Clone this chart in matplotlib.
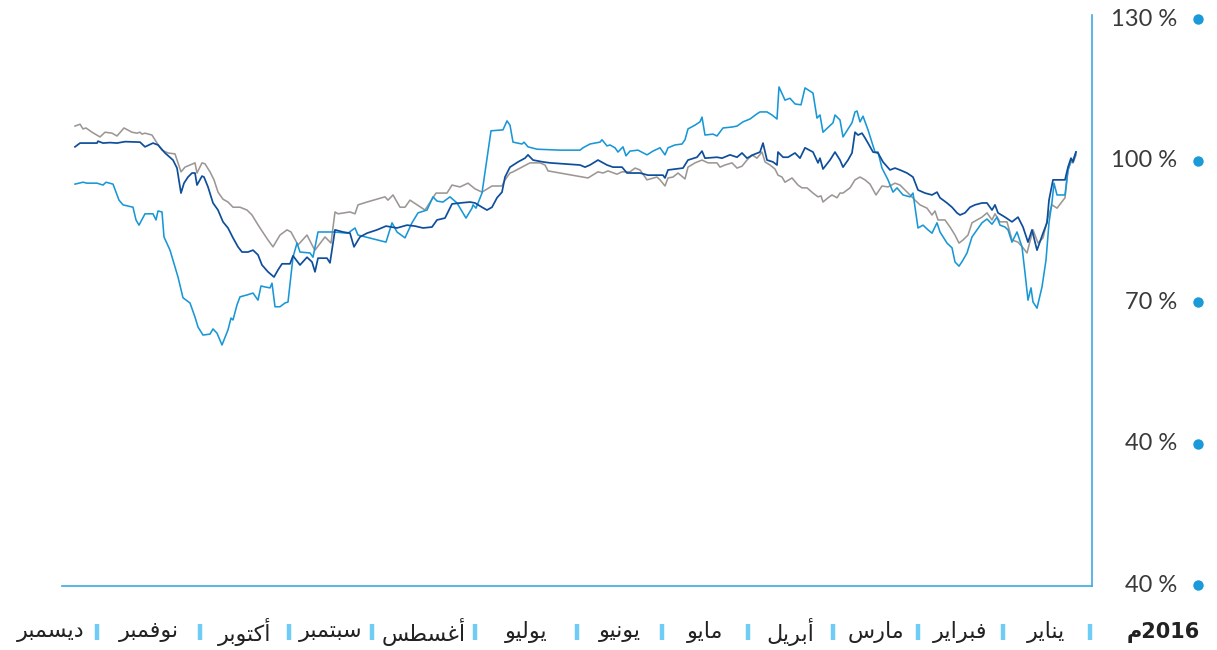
import matplotlib
matplotlib.use("Agg")
import matplotlib.pyplot as plt
from matplotlib.transforms import blended_transform_factory
from matplotlib.lines import Line2D

# ---------------- data (trading day counted from 1 Jan 2016, value in %) ----------------
navy_day = [250.25, 249, 244.75, 244.5, 243.25, 241.5, 239.75, 237.75, 234, 232.75, 230.75, 229.5,
            227.75, 225.75, 224.75, 223.75, 223, 222, 221, 220.25, 219.75, 218.5, 218, 217, 215.75,
            214.5, 213.25, 212, 210.75, 209.5, 208.5, 207, 205.75, 204.5, 203.5, 202, 200.5, 199.5,
            198.5, 196.5, 195.75, 194, 192.25, 191, 190.25, 189.5, 187.25, 186.5, 185.25, 183.25,
            181.5, 180.5, 179, 177.25, 174.75, 172.5, 169.75, 167.25, 165.25, 163.25, 161, 159.75,
            157.75, 156, 154, 151.5, 150.25, 148.5, 147.25, 146, 144.75, 143.5, 142.75, 141.5, 139.5,
            137.75, 137, 135.75, 133.25, 131.5, 124, 122.75, 121.5, 119.5, 117.25, 115.75, 113.5,
            112.25, 109, 107, 103.25, 102.75, 102, 98.25, 97, 94.75, 93.5, 92.75, 89.75, 88.5, 86.5,
            84.75, 83.5, 82.25, 80.75, 79, 78.25, 77.25, 75.75, 74.75, 74.5, 73.25, 72, 70.25, 69,
            67.75, 65.75, 64.5, 64, 63.25, 61.5, 60.25, 59, 58.25, 57, 56, 55.25, 54.5, 53.5, 52.75,
            52, 50.75, 49.5, 48.25, 46.5, 45.25, 44, 42.25, 40.75, 39.5, 37.75, 36, 34.75, 34, 32.25,
            31, 29.75, 29, 27.75, 26.5, 25.25, 23.5, 22.25, 21, 20.25, 19.5, 17.75, 16, 14.5, 13.25,
            12, 11, 9.75, 8.25, 7.25, 6.75, 5.75, 2.75, 2, 1.25, 0.75, 0]
navy_val = [102.9, 103.7, 103.7, 104.1, 103.7, 103.8, 103.7, 104.0, 103.9, 102.9, 103.7, 103.3,
            101.6, 100.1, 98.4, 93.1, 95.2, 96.5, 97.35, 97.35, 94.8, 96.7, 96.5, 94.4, 91.0,
            89.5, 87.0, 85.7, 83.6, 81.7, 80.6, 80.6, 81.0, 80.0, 77.85, 76.4, 75.3, 76.8,
            78.1, 78.1, 79.8, 77.85, 79.5, 78.5, 76.4, 79.3, 79.3, 78.3, 85.3, 84.85,
            84.6, 81.7, 83.8, 84.6, 85.3, 86.1, 85.7, 86.3, 86.1, 85.7, 85.9, 87.4,
            87.8, 90.8, 91.0, 91.2, 91.0, 90.1, 89.5, 90.1, 92.1, 93.3, 96.5, 98.6, 99.7,
            100.5, 101.2, 100.1, 99.7, 99.5, 99.05, 98.6, 99.05, 100.1, 99.05, 98.6, 98.6,
            97.35, 97.35, 96.9, 96.9, 96.3, 98.0, 98.4, 100.1, 100.7, 102.0, 100.5, 100.7, 100.5, 101.2,
            100.7, 101.6, 100.5, 101.2, 101.8, 103.7, 100.1, 99.7, 99.05, 101.8, 100.7, 100.7, 101.6, 100.5,
            102.7, 101.8, 99.5, 100.5, 98.2, 100.1, 101.8, 100.1, 98.6, 100.1, 101.6, 106.0, 105.4, 105.8, 104.8,
            103.7, 101.8, 101.6, 99.7, 98.0, 98.4, 98.0, 97.35, 96.5, 93.75, 93.1, 92.7, 93.3, 92.1, 91.0,
            90.1, 88.9, 88.45, 88.9, 90.1, 90.6, 91.0, 91.0, 89.5, 90.6, 88.9, 88.0, 87.0, 88.0, 85.9,
            82.7, 85.3, 81.0, 84.6, 86.8, 91.6, 95.9, 95.9, 98.6, 100.5, 99.7, 101.8]

light_day = [250.25, 248.25, 247.25, 244.75, 243.25, 242.5, 240.75, 239.25, 238.25, 235.75, 235, 234.25,
             232.75, 230.75, 230, 229.5, 228.5, 228, 226.5, 225.25, 224.5, 223.25, 221.5, 220.25, 219.5,
             218.25, 216.5, 215.75, 214.75, 213.5, 212, 211.25, 210.75, 209.75, 209, 207.25, 205.75,
             204.5, 203.75, 202.75, 201.5, 201, 200.25, 199, 197.75, 197, 195.75, 194.75, 194, 191.5,
             190.75, 189.5, 185.75, 182, 180.25, 179.5, 172.5, 171, 169.75, 167.75, 166, 164.5, 162.25,
             160.75, 159.75, 158.25, 156.5, 154.75, 152.5, 151, 150.75, 150, 148.5, 146.25, 143.25,
             142.25, 141.5, 140.75, 138.5, 138, 137, 134.75, 129, 124, 123.25, 121.5, 119, 118.5, 117.25,
             116.5, 115.25, 114.5, 113.25, 112.5, 111.5, 109.5, 107.25, 105.75, 104, 102.75, 102, 100.25,
             98.5, 97.75, 97, 95.25, 94, 93.5, 92.75, 90.75, 89.75, 88.25, 86, 84.75, 83.25, 81.5, 79.75,
             79, 77.25, 76, 74.75, 74.25, 72.75, 71.5, 70.25, 68.75, 67.75, 65.75, 64.75, 64, 63.25, 60.75,
             60.25, 59, 58.25, 56, 55.25, 54.75, 54, 53.25, 52, 50.25, 49.5, 48.5, 47, 45.75, 44.75, 43.25,
             41.5, 40.75, 40.25, 39.5, 38.25, 37, 36, 34.75, 34, 32.25, 31, 30.25, 29.25, 28.25, 27.25, 26,
             24.75, 23.5, 22.25, 21, 19.75, 19, 17.75, 17, 16, 14.75, 13.5, 12.75, 12, 11.25, 10.75, 9.75,
             8.5, 7.5, 6.75, 6, 5.5, 4.75, 2.75, 2, 1.25, 0.75, 0]
light_val = [95.0, 95.4, 95.2, 95.2, 94.8, 95.4, 95.0, 91.6, 90.6, 90.1, 87.4, 86.3,
             88.7, 88.7, 87.4, 89.3, 89.1, 83.8, 81.0, 77.4, 75.3, 70.9, 69.8, 66.8, 64.7,
             63.0, 63.2, 64.3, 63.4, 60.9, 64.1, 66.6, 66.2, 69.4, 71.1, 71.5, 71.9,
             70.4, 73.4, 73.2, 73.0, 74.0, 69.0, 69.0, 69.8, 70.0, 79.5, 82.5, 80.6, 80.4,
             79.5, 84.85, 84.85, 84.6, 85.7, 84.2, 82.7, 86.8, 84.85, 83.6, 86.8, 88.9, 89.5,
             92.3, 91.4, 91.2, 92.3, 91.0, 87.8, 89.9, 90.6, 89.9, 93.1, 106.3, 106.5,
             108.4, 107.5, 103.9, 103.5, 103.9, 102.9, 102.4, 102.2, 102.2, 102.7, 103.5, 103.9, 104.4, 103.1,
             103.3, 102.7, 101.8, 102.9, 101.0, 102.0, 102.2, 101.2, 102.0, 102.7, 101.2, 102.7, 103.3,
             103.5, 104.4, 106.7, 107.5, 108.2, 109.2, 105.4, 105.6, 105.2, 106.9, 107.1, 107.3, 108.2, 108.8, 109.9,
             110.3, 110.3, 109.65, 108.8, 115.6, 112.8, 113.2, 112.0, 111.8, 115.4, 114.3, 109.0, 109.65, 106.0, 108.0,
             109.65, 108.6, 105.0, 108.0, 110.3, 110.5, 108.2, 109.4, 106.5, 101.8, 101.8, 98.4, 95.9, 93.3, 94.2, 92.7,
             92.3, 93.1, 90.1, 85.7, 86.3, 85.3, 84.6, 86.8, 84.85, 82.5, 81.5, 78.5, 77.6, 78.9, 80.4, 83.8,
             85.3, 86.8, 87.6, 86.5, 88.0, 86.3, 85.9, 85.3, 82.7, 84.85, 81.7, 76.2, 70.4, 73.0, 70.0, 68.7,
             73.2, 78.9, 86.8, 91.2, 95.2, 92.7, 92.7, 98.0, 100.1, 100.1, 101.8]

grey_day = [250.25, 249, 248.25, 247.5, 246, 244, 242.75, 241, 239.75, 238, 236, 234.75, 234, 233.5,
            232.75, 231, 229.75, 228.5, 227, 225.25, 223.75, 222.75, 220.75, 220.25, 219.75, 218.5,
            217.75, 216.5, 215.5, 214.5, 213.25, 212, 210.75, 209, 207.25, 206, 205.25, 204, 202,
            200.75, 199, 197.25, 196.25, 194.5, 192.25, 190.75, 190.25, 187.75, 186.25, 185.25, 184.5,
            181.5, 180.25, 179.5, 177.25, 172.75, 172, 170.75, 169, 167.75, 166.5, 162.75, 160, 157.25,
            156, 154, 152, 150.25, 148.5, 146, 143.5, 142.75, 141.5, 140.75, 138.5, 136.5, 134, 132.75,
            132, 129, 123.25, 122, 119.5, 118.25, 117, 114.75, 113.5, 111.5, 110.25, 109, 107.25, 104.75,
            104, 102.75, 102, 100.75, 99.5, 97.75, 97, 95.25, 93.5, 92, 89.75, 89, 87.75, 86, 84.75, 83.5,
            82.25, 81, 79.75, 78.5, 77.75, 76.5, 75.25, 74.5, 73.5, 72.75, 71, 69.5, 68.5, 67.25, 65.75,
            64.5, 63.75, 63.25, 62, 61, 59.75, 59, 58.25, 56.5, 55.25, 54, 52.75, 51.5, 50, 48.5, 47,
            45.25, 44, 41.5, 40.25, 39, 37.25, 36, 35.25, 34.5, 32.75, 31.5, 30.25, 29.25, 28.25, 27, 26,
            24.75, 23.5, 22.25, 21, 20.25, 19, 17.25, 16, 14.5, 13.25, 12.25, 10.75, 9.5, 8.25, 7, 6,
            4.75, 2.75, 2, 1.25, 0.75, 0]
grey_val = [107.3, 107.7, 106.7, 106.9, 106.0, 105.0, 106.0, 105.8, 105.2, 106.9, 106.0, 105.8, 106.0, 105.6,
            105.8, 105.4, 103.7, 102.2, 101.6, 101.4, 97.6, 98.6, 99.3, 99.5, 97.35, 99.5,
            99.3, 97.6, 95.9, 93.3, 91.8, 91.2, 90.1, 90.1, 89.5, 88.45, 87.4, 85.7, 83.15,
            81.7, 84.2, 85.3, 84.85, 82.1, 84.2, 81.7, 81.0, 83.8, 82.5, 89.1, 88.7,
            89.1, 88.7, 90.6, 91.2, 92.3, 91.6, 92.7, 90.1, 90.1, 91.6, 89.5, 93.1, 93.1,
            94.8, 94.4, 95.2, 94.0, 93.3, 94.6, 94.6, 95.9, 97.35, 97.6, 98.6, 99.5, 99.5, 99.05,
            97.8, 97.35, 96.5, 96.3, 97.6, 97.35, 97.8, 97.1, 97.6, 97.6, 98.4, 98.0, 95.9, 96.5,
            95.9, 94.6, 96.3, 96.5, 97.35, 96.1, 98.6, 99.5, 100.1, 99.5, 99.5, 98.6, 99.05, 99.5, 98.4, 98.8,
            100.1, 101.2, 100.5, 101.8, 99.7, 99.05, 98.2, 96.9, 96.5, 95.4, 96.3, 94.8, 94.2, 94.2, 93.1,
            92.3, 92.5, 91.2, 92.1, 92.7, 92.1, 93.1, 93.1, 94.2, 95.9, 96.5, 95.9, 95.0, 92.7, 94.6, 94.4,
            95.2, 94.8, 92.7, 91.6, 90.6, 89.9, 88.45, 89.3, 87.4, 87.4, 85.9, 84.2, 82.5, 83.15, 84.2, 86.8,
            87.4, 88.0, 88.9, 87.4, 88.7, 87.0, 87.0, 83.15, 82.7, 81.5, 80.4, 85.3, 82.5, 83.6, 88.0, 90.6,
            89.9, 92.1, 98.0, 99.7, 99.5, 101.2]

tick_values = [130, 100, 70, 40, 10]
tick_labels = ["130 %", "100 %", "70 %", "40 %", "40 %"]

months = ["يناير", "فبراير", "مارس", "أبريل", "مايو", "يونيو",
          "يوليو", "أغسطس", "سبتمبر", "أكتوبر", "نوفمبر", "ديسمبر"]
# trading-day boundaries of the month columns (start of each month column)
month_bounds = [-3.5, 18.25, 39.5, 60.75, 82, 103.5, 124.75, 150.25, 176, 196.75, 219, 244.75, 268]
year_label = "2016"
year_suffix = "م"

# ---------------- simple Arabic shaping (matplotlib has no complex text layout) ----------------
FORMS = {
    'ا': ('\uFE8D', '\uFE8E', None, None),
    'أ': ('\uFE83', '\uFE84', None, None),
    'ب': ('\uFE8F', '\uFE90', '\uFE91', '\uFE92'),
    'ت': ('\uFE95', '\uFE96', '\uFE97', '\uFE98'),
    'د': ('\uFEA9', '\uFEAA', None, None),
    'ر': ('\uFEAD', '\uFEAE', None, None),
    'س': ('\uFEB1', '\uFEB2', '\uFEB3', '\uFEB4'),
    'ط': ('\uFEC1', '\uFEC2', '\uFEC3', '\uFEC4'),
    'غ': ('\uFECD', '\uFECE', '\uFECF', '\uFED0'),
    'ف': ('\uFED1', '\uFED2', '\uFED3', '\uFED4'),
    'ك': ('\uFED9', '\uFEDA', '\uFEDB', '\uFEDC'),
    'ل': ('\uFEDD', '\uFEDE', '\uFEDF', '\uFEE0'),
    'م': ('\uFEE1', '\uFEE2', '\uFEE3', '\uFEE4'),
    'ن': ('\uFEE5', '\uFEE6', '\uFEE7', '\uFEE8'),
    'و': ('\uFEED', '\uFEEE', None, None),
    'ي': ('\uFEF1', '\uFEF2', '\uFEF3', '\uFEF4'),
}


def shape(word):
    out = []
    n = len(word)
    for i, c in enumerate(word):
        if c not in FORMS:
            out.append(c)
            continue
        iso, fin, ini, med = FORMS[c]
        prev = word[i - 1] if i > 0 else None
        nxt = word[i + 1] if i < n - 1 else None
        jp = prev in FORMS and FORMS[prev][2] is not None
        jn = nxt in FORMS and ini is not None
        if jp and jn:
            out.append(med)
        elif jp:
            out.append(fin)
        elif jn:
            out.append(ini)
        else:
            out.append(iso)
    return ''.join(reversed(out))


# ---------------- figure ----------------
NAVY = '#0e4e9b'
LIGHT = '#1897d7'
GREY = '#9c9794'
SPINE = '#3aabe2'
BAR = '#6fcdf5'

fig = plt.figure(figsize=(12.17, 6.5), dpi=100)
ax = fig.add_axes([62 / 1217, 64 / 650, 1030 / 1217, 571 / 650])

ax.plot(grey_day, grey_val, color=GREY, lw=1.15, zorder=2)
ax.plot(light_day, light_val, color=LIGHT, lw=1.15, zorder=3)
ax.plot(navy_day, navy_val, color=NAVY, lw=1.25, zorder=4)

ax.set_xlim(253.5, -4)
ax.set_ylim(9.8, 130.85)
ax.set_xticks([])
ax.set_yticks([])
for s in ('top', 'left'):
    ax.spines[s].set_visible(False)
for s in ('bottom', 'right'):
    ax.spines[s].set_color(SPINE)
    ax.spines[s].set_linewidth(1.2)

# right-hand value labels with blue dots
ty = blended_transform_factory(ax.transAxes, ax.transData)
for v, lab in zip(tick_values, tick_labels):
    ax.text(1.0825, v, lab, transform=ty, ha='right', va='center',
            fontsize=17, color='#3a3a3a', family=['Lato', 'DejaVu Sans'],
            fontweight='normal', clip_on=False)
    ax.plot([1.103], [v], transform=ty, marker='o', ms=7.5, color='#1a9ad9',
            mec='none', clip_on=False)

# month labels along the bottom (right-to-left)
tx = blended_transform_factory(ax.transData, ax.transAxes)
label_y = -0.0806
for i, m in enumerate(months):
    c = (month_bounds[i] + month_bounds[i + 1]) / 2
    ax.text(c, label_y, shape(m), transform=tx, ha='center', va='center',
            fontsize=16, color='#222222', family='DejaVu Sans', clip_on=False)
for b in month_bounds[:-1]:
    ax.add_line(Line2D([b, b], [label_y - 0.014, label_y + 0.014], transform=tx,
                       color=BAR, lw=3.2, solid_capstyle='butt', clip_on=False))

ax.text(1.105, label_y, shape(year_suffix) + year_label, transform=ax.transAxes,
        ha='right', va='center', fontsize=15, fontweight='bold', color='#222222',
        family='DejaVu Sans', clip_on=False)

fig.savefig('out.png', dpi=100, facecolor='white')
